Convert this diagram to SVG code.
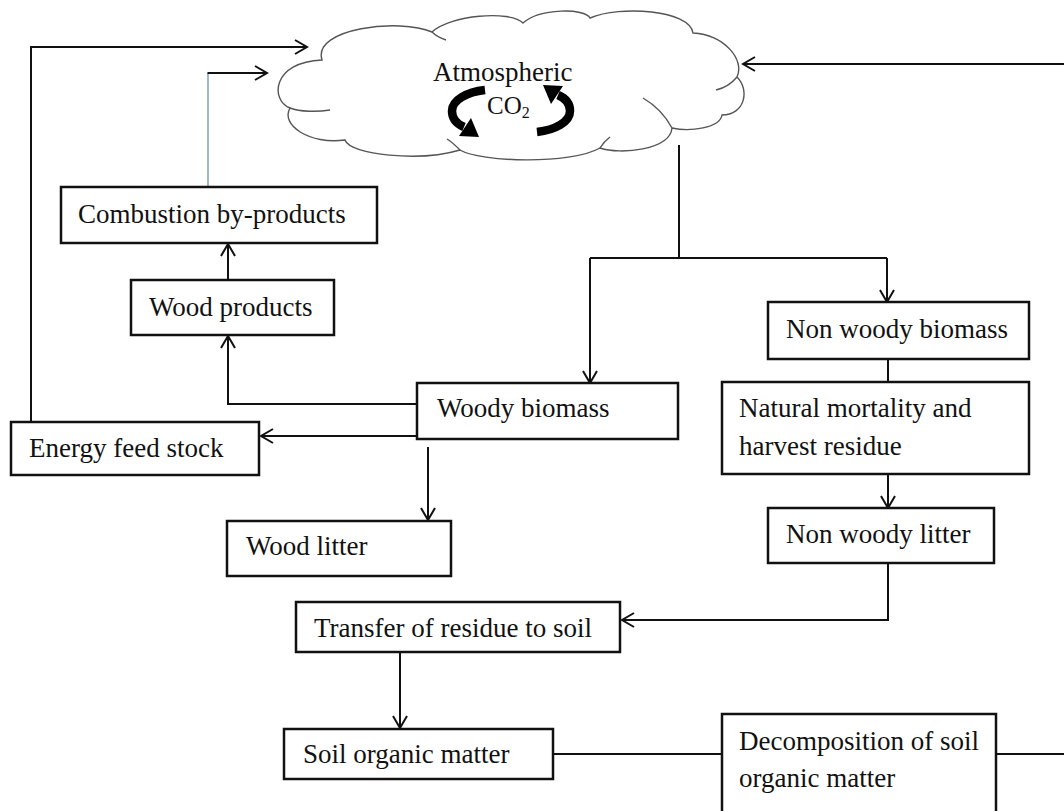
<svg xmlns="http://www.w3.org/2000/svg" width="1064" height="811" viewBox="0 0 1064 811">
  <style>
    .box{fill:#fff;stroke:#111;stroke-width:2.5}
    .lbl{font-family:"Liberation Serif","Times New Roman",serif;font-size:27px;fill:#111}
    .wire{fill:none;stroke:#111;stroke-width:2}
    .cloud{fill:#fff;stroke:#555;stroke-width:1.4}
    .cloudline{fill:none;stroke:#555;stroke-width:1.4}
  </style>
  <defs>
    <marker id="arr" markerUnits="userSpaceOnUse" viewBox="-15 -10 17 20" refX="0" refY="0" markerWidth="17" markerHeight="20" orient="auto">
      <path d="M-12,-7 L0,0 L-12,7" fill="none" stroke="#111" stroke-width="2"/>
    </marker>
    <!-- thick curved arrow used twice around the CO2 label -->
    <g id="swirl">
      <path d="M485,90 C467,92 452,100 452,111 C452,119 457,124 464,127" fill="none" stroke="#000" stroke-width="8.5"/>
      <polygon points="459,136 471,118 479,137" fill="#000"/>
    </g>
  </defs>
  <rect width="1064" height="811" fill="#fff"/>

  <!-- atmospheric CO2 pool -->
  <g id="atmosphere">
    <path class="cloud" d="M290,108 C270,100 272,62 322,60 C312,28 400,18 432,32 C450,15 510,10 523,23 C540,8 585,8 590,18 C620,5 690,10 693,33 C725,35 745,60 737,77 C750,90 745,115 722,115 C720,128 690,132 672,128 C670,150 620,155 600,148 C570,165 480,162 460,150 C420,162 350,155 345,140 C310,145 280,125 290,108 Z"/>
    <path class="cloudline" d="M290,108 C300,112 318,112 330,110"/>
    <path class="cloudline" d="M432,32 C436,36 440,38 446,40"/>
    <path class="cloudline" d="M737,77 C732,83 725,88 716,90"/>
    <path class="cloudline" d="M672,128 C665,115 655,105 643,98"/>
    <path class="cloudline" d="M460,150 C456,146 452,142 447,139"/>
    <path class="cloudline" d="M600,148 C603,143 606,140 610,137"/>
    <text class="lbl" x="433" y="81">Atmospheric</text>
    <text class="lbl" x="487" y="114" style="font-size:25px">CO<tspan dy="4" style="font-size:16px">2</tspan></text>
    <use href="#swirl"/>
    <use href="#swirl" transform="rotate(180 511 111)"/>
  </g>

  <!-- connectors -->
  <g id="connectors">
    <polyline class="wire" points="31,422 31,47 307,47" marker-end="url(#arr)"/>
    <line x1="208" y1="187" x2="208" y2="73" stroke="#7090b0" stroke-width="1.3"/>
    <polyline class="wire" points="207.5,73 267,73" marker-end="url(#arr)"/>
    <polyline class="wire" points="1064,64 743,64" marker-end="url(#arr)"/>
    <polyline class="wire" points="679,145 679,258"/>
    <polyline class="wire" points="590,258 887,258"/>
    <polyline class="wire" points="590,258 590,383" marker-end="url(#arr)"/>
    <polyline class="wire" points="887,258 887,302" marker-end="url(#arr)"/>
    <polyline class="wire" points="417,404 228,404 228,336" marker-end="url(#arr)"/>
    <polyline class="wire" points="228,280 228,244" marker-end="url(#arr)"/>
    <polyline class="wire" points="417,436 261,436" marker-end="url(#arr)"/>
    <polyline class="wire" points="428,447 428,520" marker-end="url(#arr)"/>
    <polyline class="wire" points="888,359 888,382"/>
    <polyline class="wire" points="888,474 888,508" marker-end="url(#arr)"/>
    <polyline class="wire" points="888,563 888,620 622,620" marker-end="url(#arr)"/>
    <polyline class="wire" points="400,652 400,728" marker-end="url(#arr)"/>
    <polyline class="wire" points="553,754 722,754"/>
    <polyline class="wire" points="996,754 1064,754"/>
  </g>

  <g id="combustion">
    <rect class="box" x="61" y="187" width="316" height="56"/>
    <text class="lbl" x="78" y="223">Combustion by-products</text>
  </g>
  <g id="wood-products">
    <rect class="box" x="131" y="280" width="203" height="55"/>
    <text class="lbl" x="149" y="316">Wood products</text>
  </g>
  <g id="energy-feed-stock">
    <rect class="box" x="11" y="422" width="248" height="53"/>
    <text class="lbl" x="29" y="457">Energy feed stock</text>
  </g>
  <g id="woody-biomass">
    <rect class="box" x="417" y="383" width="261" height="56"/>
    <text class="lbl" x="437" y="417">Woody biomass</text>
  </g>
  <g id="non-woody-biomass">
    <rect class="box" x="768" y="302" width="261" height="57"/>
    <text class="lbl" x="786" y="338">Non woody biomass</text>
  </g>
  <g id="mortality-residue">
    <rect class="box" x="722" y="382" width="307" height="92"/>
    <text class="lbl" x="739" y="417">Natural mortality and</text>
    <text class="lbl" x="739" y="455">harvest residue</text>
  </g>
  <g id="non-woody-litter">
    <rect class="box" x="768" y="508" width="226" height="55"/>
    <text class="lbl" x="786" y="543">Non woody litter</text>
  </g>
  <g id="wood-litter">
    <rect class="box" x="227" y="521" width="224" height="55"/>
    <text class="lbl" x="246" y="555">Wood litter</text>
  </g>
  <g id="transfer">
    <rect class="box" x="296" y="602" width="324" height="50"/>
    <text class="lbl" x="314" y="637">Transfer of residue to soil</text>
  </g>
  <g id="soil-organic-matter">
    <rect class="box" x="284" y="729" width="269" height="50"/>
    <text class="lbl" x="303" y="763">Soil organic matter</text>
  </g>
  <g id="decomposition">
    <rect class="box" x="722" y="714" width="274" height="120"/>
    <text class="lbl" x="739" y="750">Decomposition of soil</text>
    <text class="lbl" x="739" y="787">organic matter</text>
  </g>
</svg>
